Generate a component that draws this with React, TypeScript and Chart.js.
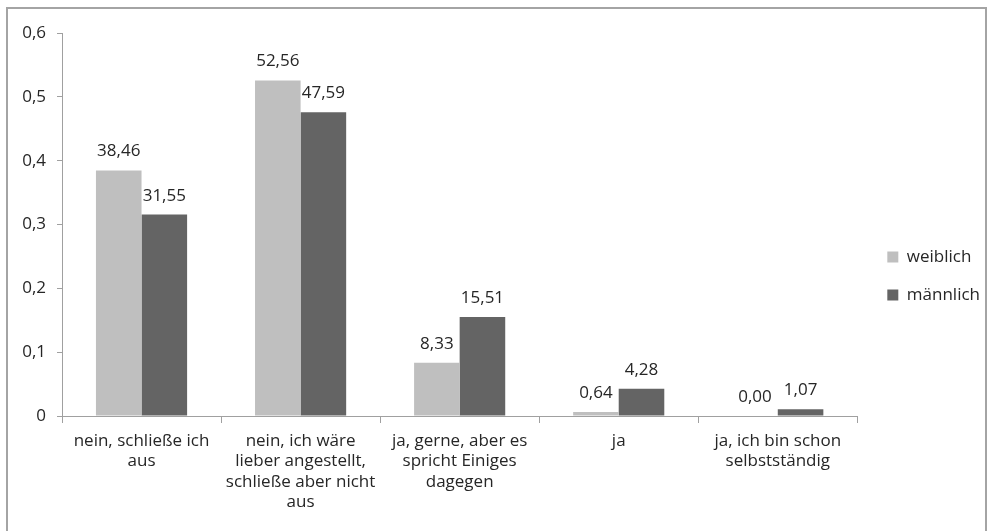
import React, { useEffect, useRef } from 'react';
import { Chart, registerables } from 'chart.js';

Chart.register(...registerables);

const categories: (string | string[])[] = [
  ['nein, schließe ich', 'aus'],
  ['nein, ich wäre', 'lieber angestellt,', 'schließe aber nicht', 'aus'],
  ['ja, gerne, aber es', 'spricht Einiges', 'dagegen'],
  'ja',
  ['ja, ich bin schon', 'selbstständig'],
];
const seriesNames = ['weiblich', 'männlich'];
const weiblichPct = [38.46, 52.56, 8.33, 0.64, 0.0];
const maennlichPct = [31.55, 47.59, 15.51, 4.28, 1.07];
const yTickLabels = ['0', '0,1', '0,2', '0,3', '0,4', '0,5', '0,6'];
const seriesColors = ['#BFBFBF', '#646464'];

const FONT = 'Open Sans';
const FS = 17;
const TEXT = '#262626';
const AXIS = '#A0A0A0';

const valueLabels = {
  id: 'valueLabels',
  afterDatasetsDraw(chart: any) {
    const ctx = chart.ctx;
    ctx.save();
    ctx.font = `${FS}px "${FONT}"`;
    ctx.fillStyle = TEXT;
    ctx.textAlign = 'center';
    ctx.textBaseline = 'alphabetic';
    const all = [weiblichPct, maennlichPct];
    chart.data.datasets.forEach((_ds: any, di: number) => {
      const meta = chart.getDatasetMeta(di);
      meta.data.forEach((el: any, i: number) => {
        ctx.fillText(all[di][i].toFixed(2).replace('.', ','), el.x, el.y - 14);
      });
    });
    ctx.restore();
  },
};

export default function App() {
  const ref = useRef<HTMLCanvasElement | null>(null);
  useEffect(() => {
    if (!ref.current) return;
    const chart = new Chart(ref.current, {
      type: 'bar',
      data: {
        labels: categories as any,
        datasets: [
          {
            label: seriesNames[0],
            data: weiblichPct.map((v) => v / 100),
            backgroundColor: seriesColors[0],
            categoryPercentage: 0.573,
            barPercentage: 1,
          },
          {
            label: seriesNames[1],
            data: maennlichPct.map((v) => v / 100),
            backgroundColor: seriesColors[1],
            categoryPercentage: 0.573,
            barPercentage: 1,
          },
        ],
      },
      options: {
        animation: false,
        responsive: false,
        maintainAspectRatio: false,
        layout: { padding: { top: 33, right: 1, bottom: 12, left: 0 } },
        plugins: {
          tooltip: { enabled: false },
          legend: {
            position: 'right',
            labels: {
              boxWidth: 11,
              boxHeight: 11,
              padding: 21,
              color: TEXT,
              font: { family: FONT, size: FS },
            },
          },
        },
        scales: {
          x: {
            offset: true,
            grid: {
              display: true,
              offset: true,
              drawOnChartArea: false,
              drawTicks: true,
              tickLength: 7,
              color: AXIS,
            },
            border: { display: true, color: AXIS },
            ticks: {
              maxRotation: 0,
              autoSkip: false,
              padding: 8,
              color: TEXT,
              font: { family: FONT, size: FS, lineHeight: 1.2 },
            },
            afterFit: (s: any) => {
              s.height = 103;
            },
          },
          y: {
            min: 0,
            max: 0.6,
            ticks: {
              stepSize: 0.1,
              padding: 11,
              color: TEXT,
              font: { family: FONT, size: FS },
              callback: (_v: any, i: number) => yTickLabels[i],
            },
            grid: {
              display: true,
              drawOnChartArea: false,
              drawTicks: true,
              tickLength: 5,
              color: AXIS,
            },
            border: { display: true, color: AXIS },
            afterFit: (s: any) => {
              s.width = 62;
            },
          },
          gap: {
            type: 'linear',
            position: 'right',
            display: true,
            grid: { display: false },
            ticks: { display: false },
            border: { display: false },
            afterFit: (s: any) => {
              s.width = 9;
            },
          },
        },
      } as any,
      plugins: [valueLabels],
    });
    return () => chart.destroy();
  }, []);

  return (
    <div
      style={{
        position: 'fixed',
        left: 0,
        top: 0,
        width: 991,
        height: 531,
        overflow: 'hidden',
        background: '#fff',
      }}
    >
      <canvas ref={ref} width={991} height={531} style={{ display: 'block' }} />
      <div
        style={{
          position: 'absolute',
          left: 6,
          top: 7,
          width: 981,
          height: 600,
          boxSizing: 'border-box',
          border: '2px solid #A4A4A4',
          pointerEvents: 'none',
        }}
      />
    </div>
  );
}
